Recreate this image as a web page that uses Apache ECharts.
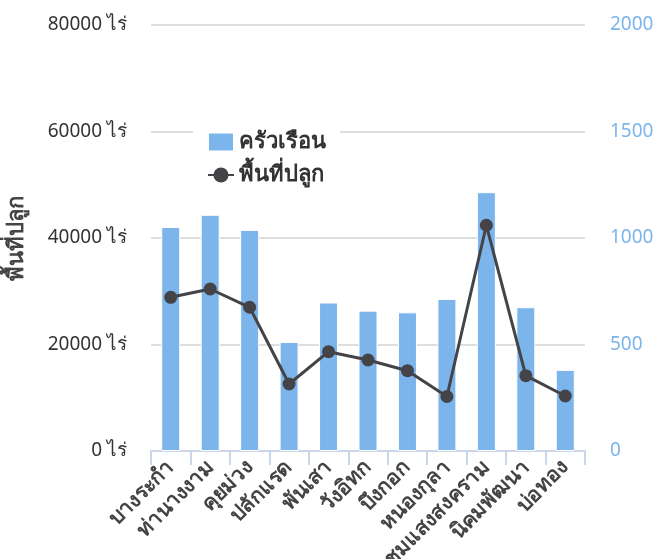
<!DOCTYPE html>
<html>
<head>
<meta charset="utf-8">
<script src="https://cdn.jsdelivr.net/npm/echarts@6/dist/echarts.min.js"></script>
<style>
html,body{margin:0;padding:0;background:#fff;}
#chart{width:656px;height:559px;}
</style>
</head>
<body>
<div id="chart"></div>
<script>
var categories = ['บางระกำ','ท่านางงาม','คุยม่วง','ปลักแรด','พันเสา','วังอิทก','บึงกอก','หนองกุลา','ชุมแสงสงคราม','นิคมพัฒนา','บ่อทอง'];
var households = [1052,1109,1038,512,697,659,651,714,1215,675,381];
var plantedArea = [28860,30420,26990,12580,18650,17090,15080,10240,42390,14140,10330];
var leftTicks = {min:0, max:80000, interval:20000};
var rightTicks = {min:0, max:2000, interval:500};

var FONT = '"Noto Sans", "DejaVu Sans", sans-serif';
var chart = echarts.init(document.getElementById('chart'));
chart.setOption({
  animation:false,
  textStyle:{fontFamily:FONT},
  grid:{left:151, right:71, top:25, bottom:108, containLabel:false, outerBoundsMode:'none'},
  legend:{
    orient:'vertical', left:193, top:123,
    backgroundColor:'#ffffff', padding:[8,14,8,14],
    itemWidth:26, itemHeight:19, itemGap:11,
    textStyle:{fontSize:22, fontWeight:'bold', color:'#333333', fontFamily:FONT},
    data:[{name:'ครัวเรือน', icon:'rect'}, {name:'พื้นที่ปลูก'}]
  },
  xAxis:{
    type:'category', data:categories,
    axisLine:{lineStyle:{color:'#ccd6eb', width:2}},
    axisTick:{show:true, length:14, alignWithLabel:false, lineStyle:{color:'#ccd6eb', width:2}},
    axisLabel:{interval:0, rotate:45, fontSize:21, fontWeight:'bold', color:'#444444', margin:13, fontFamily:FONT}
  },
  yAxis:[
    {
      type:'value', min:leftTicks.min, max:leftTicks.max, interval:leftTicks.interval,
      name:'พื้นที่ปลูก', nameLocation:'middle', nameGap:123, nameRotate:90,
      nameTextStyle:{fontSize:22, fontWeight:'bold', color:'#444444', fontFamily:FONT},
      axisLine:{show:false}, axisTick:{show:false},
      axisLabel:{formatter:function(v){return v + ' ไร่';}, fontSize:19, color:'#333333', margin:24, fontFamily:FONT},
      splitLine:{lineStyle:{color:'#dedede', width:2}}
    },
    {
      type:'value', min:rightTicks.min, max:rightTicks.max, interval:rightTicks.interval,
      axisLine:{show:false}, axisTick:{show:false},
      axisLabel:{formatter:function(v){return String(v);}, fontSize:19, color:'#7cb5ec', margin:25, fontFamily:FONT},
      splitLine:{show:false}
    }
  ],
  series:[
    {
      name:'ครัวเรือน', type:'bar', yAxisIndex:1, data:households, barWidth:19,
      itemStyle:{color:'#7cb5ec', borderColor:'#ffffff', borderWidth:1}, z:2
    },
    {
      name:'พื้นที่ปลูก', type:'line', yAxisIndex:0, data:plantedArea,
      symbol:'circle', symbolSize:13,
      lineStyle:{color:'#434348', width:3},
      itemStyle:{color:'#434348'}, z:3
    }
  ]
});
</script>
</body>
</html>
